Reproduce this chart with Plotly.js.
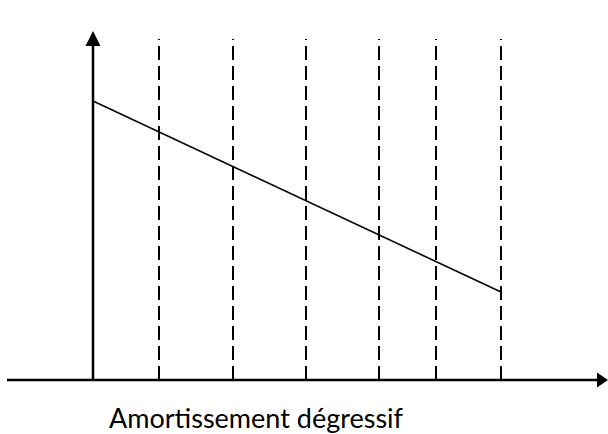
<!DOCTYPE html>
<html>
<head>
<meta charset="utf-8">
<script src="https://cdn.plot.ly/plotly-3.0.1.min.js"></script>
<style>html,body{margin:0;padding:0;background:#fff;}#chart{width:608px;height:434px;}</style>
</head>
<body>
<div id="chart"></div>
<script>
// Period boundaries along the time axis (chart units)
const periodBounds = [66, 140, 213, 286, 343, 408];
// Declining-balance line: start and end values
const lineX = [0, 408];
const lineY = [279, 88];
const dashTop = 341;
const caption = "Amortissement dégressif";

const traces = [];
periodBounds.forEach(function (b) {
  traces.push({
    x: [b, b], y: [0, dashTop], mode: 'lines', type: 'scatter',
    line: {color: '#000', width: 2, dash: '14px,6px'},
    hoverinfo: 'skip', showlegend: false
  });
});
traces.push({
  x: lineX, y: lineY, mode: 'lines', type: 'scatter',
  line: {color: '#000', width: 1.6}, hoverinfo: 'skip', showlegend: false
});

const shapes = [
  {type: 'line', xref: 'x', yref: 'y', x0: -86, x1: 505, y0: 0, y1: 0, line: {color: '#000', width: 2.5}},
  {type: 'path', xref: 'x', yref: 'y', path: 'M 504 7.5 L 515 0 L 504 -7.5 Z', fillcolor: '#000', line: {color: '#000', width: 0}},
  {type: 'line', xref: 'x', yref: 'y', x0: 0, x1: 0, y0: 0, y1: 336, line: {color: '#000', width: 2.5}},
  {type: 'path', xref: 'x', yref: 'y', path: 'M -7.5 334 L 0 349 L 7.5 334 Z', fillcolor: '#000', line: {color: '#000', width: 0}}
];

const layout = {
  width: 608, height: 434,
  margin: {l: 0, r: 0, t: 0, b: 0},
  paper_bgcolor: '#fff', plot_bgcolor: '#fff',
  xaxis: {range: [-93, 515], visible: false, fixedrange: true},
  yaxis: {range: [-54, 380], visible: false, fixedrange: true},
  shapes: shapes,
  annotations: [{
    x: 163, y: -37, xref: 'x', yref: 'y', text: caption, showarrow: false,
    xanchor: 'center', yanchor: 'middle', borderpad: 0,
    font: {family: 'Lato, "DejaVu Sans", sans-serif', size: 27, color: '#000'}
  }],
  showlegend: false
};

Plotly.newPlot('chart', traces, layout, {staticPlot: true, displayModeBar: false});
</script>
</body>
</html>
